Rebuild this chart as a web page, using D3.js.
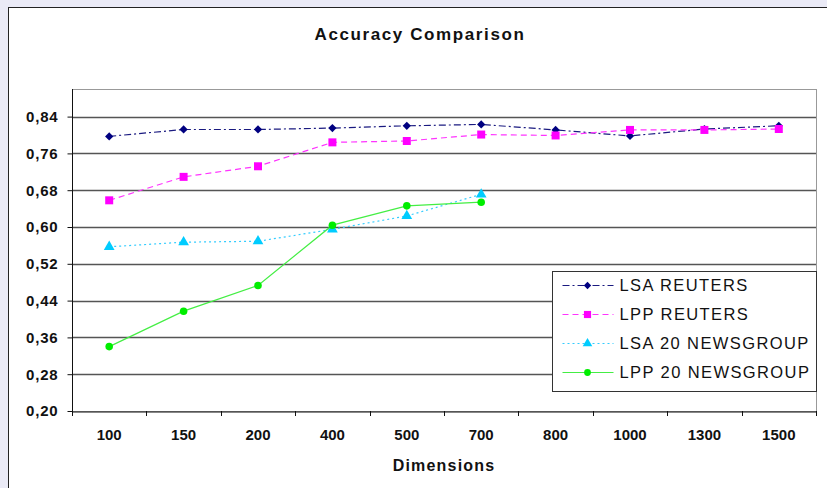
<!DOCTYPE html>
<html>
<head>
<meta charset="utf-8">
<script src="https://cdn.jsdelivr.net/npm/d3@7"></script>
<style>
  body { margin: 0; background: #eaeaf6; }
  svg { display: block; font-family: "Liberation Sans", Arial, sans-serif; }
</style>
</head>
<body>
<svg class="main"></svg>
<script>
var width = 827,
    height = 488,
    // plot area
    plotLeft = 72,
    plotRight = 816,
    plotTop = 89,
    plotBottom = 411;

var dims = ['100', '150', '200', '400', '500', '700', '800', '1000', '1300', '1500'];
var yTicks = [0.20, 0.28, 0.36, 0.44, 0.52, 0.60, 0.68, 0.76, 0.84];

var lsaReuters = [0.797, 0.812, 0.812, 0.815, 0.820, 0.823, 0.811, 0.798, 0.813, 0.820];
var lppReuters = [0.658, 0.709, 0.732, 0.784, 0.787, 0.801, 0.799, 0.811, 0.811, 0.813];
var lsaNews = [0.557, 0.567, 0.569, 0.595, 0.624, 0.671];
var lppNews = [0.340, 0.417, 0.473, 0.604, 0.646, 0.654];

var seriesNames = ['LSA REUTERS', 'LPP REUTERS', 'LSA 20 NEWSGROUP', 'LPP 20 NEWSGROUP'];

// diamond = square turned 45deg (excel style)
var series = [
    { name: seriesNames[0], values: lsaReuters, line: '#1a1a80', marker: '#000080', dash: '7,3,2,3', shape: d3.symbolSquare, size: 34, rot: 45 },
    { name: seriesNames[1], values: lppReuters, line: '#ff33ff', marker: '#ff00ff', dash: '6,4', shape: d3.symbolSquare, size: 64, rot: 0 },
    { name: seriesNames[2], values: lsaNews, line: '#33ccff', marker: '#00ccff', dash: '2,3', shape: d3.symbolTriangle, size: 50, rot: 0 },
    { name: seriesNames[3], values: lppNews, line: '#44ee44', marker: '#00ee00', dash: null, shape: d3.symbolCircle, size: 45, rot: 0 }
];

var svg = d3.select('svg')
    .attr('width', width)
    .attr('height', height);

// chart area
svg.append('rect')
    .attr('x', 8.5)
    .attr('y', 7.5)
    .attr('width', width + 10)
    .attr('height', height + 10)
    .attr('fill', 'white')
    .attr('stroke', '#222');

var x = d3.scaleBand()
    .domain(dims)
    .range([plotLeft, plotRight]);

var y = d3.scaleLinear()
    .domain([0.2, 0.9])
    .range([plotBottom, plotTop]);

// plot frame
svg.append('rect')
    .attr('x', plotLeft + 0.5)
    .attr('y', plotTop + 0.5)
    .attr('width', plotRight - plotLeft)
    .attr('height', plotBottom - plotTop)
    .attr('fill', 'none')
    .attr('stroke', '#999');

// gridlines
svg.append('g')
    .selectAll('line')
    .data(yTicks.slice(1))
    .join('line')
    .attr('x1', plotLeft)
    .attr('x2', plotRight)
    .attr('y1', d => Math.round(y(d)) + 0.5)
    .attr('y2', d => Math.round(y(d)) + 0.5)
    .attr('stroke', '#555')
    .attr('stroke-width', 1.3);

// y axis
var yAxis = d3.axisLeft(y)
    .tickValues(yTicks)
    .tickSize(5)
    .tickPadding(9)
    .tickFormat(d => d3.format('.2f')(d).replace('.', ','));

var gY = svg.append('g')
    .attr('transform', `translate(${plotLeft + 0.5},0)`)
    .call(yAxis);
gY.select('.domain').attr('stroke', '#111').attr('d', `M0,${plotTop}V${plotBottom}`);
gY.selectAll('.tick line').attr('stroke', '#111');
gY.selectAll('text')
    .style('font-size', '15px')
    .style('font-weight', 'bold')
    .style('letter-spacing', '0.8px')
    .attr('fill', '#111');

// x axis
var xAxis = d3.axisBottom(x)
    .tickSize(0)
    .tickPadding(18);

var gX = svg.append('g')
    .attr('transform', `translate(0,${plotBottom + 0.5})`)
    .call(xAxis);
gX.select('.domain').attr('stroke', '#111');
gX.selectAll('text')
    .style('font-size', '15px')
    .style('font-weight', 'bold')
    .attr('fill', '#111');

// tick marks on band boundaries
svg.append('g')
    .selectAll('line')
    .data(dims)
    .join('line')
    .attr('x1', d => Math.round(x(d)) + 0.5)
    .attr('x2', d => Math.round(x(d)) + 0.5)
    .attr('y1', plotBottom)
    .attr('y2', plotBottom + 5)
    .attr('stroke', '#111');
svg.append('line')
    .attr('x1', plotRight + 0.5).attr('x2', plotRight + 0.5)
    .attr('y1', plotBottom).attr('y2', plotBottom + 5)
    .attr('stroke', '#111');

// titles
svg.append('text')
    .attr('x', 420)
    .attr('y', 40)
    .attr('text-anchor', 'middle')
    .style('font-size', '17px')
    .style('font-weight', 'bold')
    .style('letter-spacing', '1.6px')
    .attr('fill', '#111')
    .text('Accuracy Comparison');

svg.append('text')
    .attr('x', 444)
    .attr('y', 471)
    .attr('text-anchor', 'middle')
    .style('font-size', '16px')
    .style('font-weight', 'bold')
    .style('letter-spacing', '1.2px')
    .attr('fill', '#111')
    .text('Dimensions');

// lines + markers
var cx = (d, i) => x(dims[i]) + x.bandwidth() / 2;

var line = d3.line()
    .x(cx)
    .y(d => y(d));

var gS = svg.append('g')
    .selectAll('g')
    .data(series)
    .join('g');

gS.append('path')
    .attr('d', s => line(s.values))
    .attr('fill', 'none')
    .attr('stroke', s => s.line)
    .attr('stroke-width', 1.2)
    .attr('stroke-dasharray', s => s.dash);

gS.each(function(s) {
    d3.select(this)
        .selectAll('path.mark')
        .data(s.values)
        .join('path')
        .attr('class', 'mark')
        .attr('transform', (d, i) => `translate(${cx(d, i)},${y(d)}) rotate(${s.rot})`)
        .attr('d', d3.symbol().type(s.shape).size(s.size))
        .attr('fill', s.marker);
});

// legend
var legend = svg.append('g')
    .attr('transform', 'translate(552.5,271.5)');

legend.append('rect')
    .attr('width', 264)
    .attr('height', 120)
    .attr('fill', 'white')
    .attr('stroke', '#333');

var item = legend.selectAll('g')
    .data(series)
    .join('g')
    .attr('transform', (s, i) => `translate(0,${14 + i * 29})`);

item.append('line')
    .attr('x1', 10)
    .attr('x2', 61)
    .attr('stroke', s => s.line)
    .attr('stroke-width', 1.2)
    .attr('stroke-dasharray', s => s.dash);

item.append('path')
    .attr('transform', s => `translate(35,0) rotate(${s.rot})`)
    .attr('d', s => d3.symbol().type(s.shape).size(s.size * 0.8)())
    .attr('fill', s => s.marker);

item.append('text')
    .attr('x', 67)
    .attr('dy', '0.36em')
    .style('font-size', '16.5px')
    .style('letter-spacing', '1.4px')
    .attr('fill', '#111')
    .text(s => s.name);
</script>
</body>
</html>
